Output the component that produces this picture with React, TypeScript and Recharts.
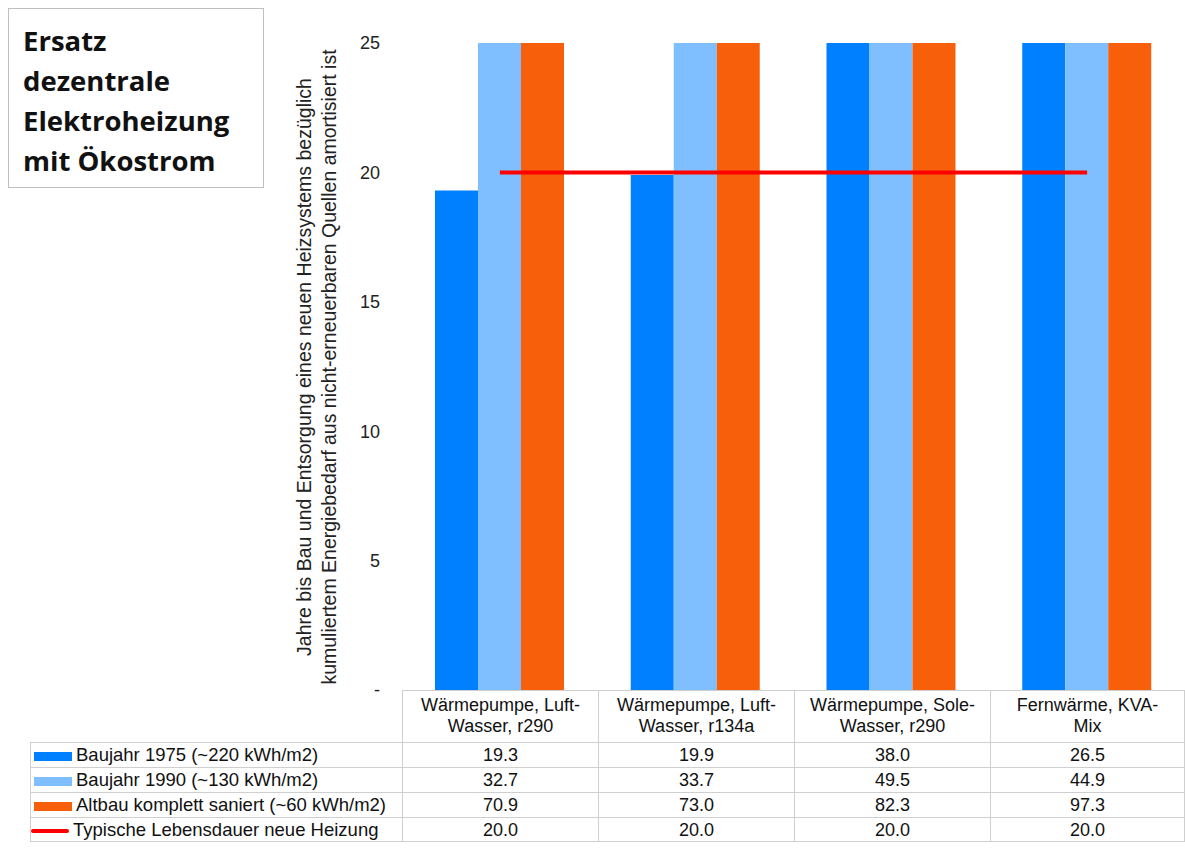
import React from "react";
import { ComposedChart, Bar, Line, XAxis, YAxis } from "recharts";

const categories = ["Wärmepumpe, Luft-\nWasser, r290", "Wärmepumpe, Luft-\nWasser, r134a", "Wärmepumpe, Sole-\nWasser, r290", "Fernwärme, KVA-\nMix"];
const b1975 = [19.3, 19.9, 38.0, 26.5];
const b1990 = [32.7, 33.7, 49.5, 44.9];
const altbau = [70.9, 73.0, 82.3, 97.3];
const lebensdauer = [20.0, 20.0, 20.0, 20.0];
const yTicks = [0, 5, 10, 15, 20, 25];

const series = [
  { key: "b1975", name: "Baujahr 1975 (~220 kWh/m2)", color: "#0080FF", values: b1975, line: false },
  { key: "b1990", name: "Baujahr 1990 (~130 kWh/m2)", color: "#80BFFF", values: b1990, line: false },
  { key: "altbau", name: "Altbau komplett saniert (~60 kWh/m2)", color: "#F75F0B", values: altbau, line: false },
  { key: "life", name: "Typische Lebensdauer neue Heizung", color: "#FF0000", values: lebensdauer, line: true },
];

const data = categories.map((c, i) => ({
  name: c,
  b1975: b1975[i],
  b1990: b1990[i],
  altbau: altbau[i],
  life: lebensdauer[i],
}));

const font = "'Liberation Sans', Arial, sans-serif";
const colX = [402, 598, 794, 990, 1185];
const border = "1px solid #cfcfcf";

export default function App() {
  return (
    <div style={{ position: "absolute", left: 0, top: 0, width: 1185, height: 849, background: "#fff", fontFamily: font }}>
      <div style={{ position: "absolute", left: 8, top: 8, width: 256, height: 180, border: "1px solid #bfbfbf", boxSizing: "border-box", padding: "12px 0 0 14px", fontFamily: "'Open Sans', sans-serif", fontWeight: 700, fontSize: 27.5, lineHeight: "40px", color: "#111" }}>
        Ersatz<br />dezentrale<br />Elektroheizung<br />mit Ökostrom
      </div>
      <ComposedChart width={1185} height={720} data={data} margin={{ top: 43, right: 0, bottom: 30, left: 0 }} barCategoryGap={33} barGap={0} style={{ position: "absolute", left: 0, top: 0 }}>
        <XAxis dataKey="name" hide />
        <YAxis width={402} domain={[0, 25]} ticks={yTicks} interval={0} allowDataOverflow axisLine={false} tickLine={false} tickSize={0} tickMargin={22}
          tick={{ fill: "#222", fontSize: 18, fontFamily: font }}
          tickFormatter={(v: number) => (v === 0 ? "-" : String(v))} />
        {series.filter(s => !s.line).map(s => (
          <Bar key={s.key} dataKey={s.key} fill={s.color} isAnimationActive={false} />
        ))}
        <Line dataKey="life" stroke="#FF0000" strokeWidth={4} dot={false} type="linear" isAnimationActive={false} />
      </ComposedChart>
      <svg width={80} height={700} style={{ position: "absolute", left: 280, top: 0 }}>
        <g transform="translate(31,367) rotate(-90)">
          <text x={0} y={0} textAnchor="middle" fontSize={19.5} fill="#222" fontFamily={font}>Jahre bis Bau und Entsorgung eines neuen Heizsystems bezüglich</text>
          <text x={0} y={25} textAnchor="middle" fontSize={19.5} fill="#222" fontFamily={font}>kumuliertem Energiebedarf aus nicht-erneuerbaren Quellen amortisiert ist</text>
        </g>
      </svg>
      {categories.map((c, i) => (
        <div key={c} style={{ position: "absolute", left: colX[i], top: 690, width: colX[i + 1] - colX[i], height: 52, borderLeft: border, borderTop: border, borderRight: i === 3 ? border : undefined, boxSizing: "border-box", textAlign: "center", fontSize: 18, lineHeight: "21px", paddingTop: 4, whiteSpace: "pre-line", color: "#111" }}>{c}</div>
      ))}
      {series.map((s, r) => (
        <React.Fragment key={s.key}>
          <div style={{ position: "absolute", left: 30, top: 742 + r * 25, width: 372, height: 25, borderLeft: border, borderTop: border, borderBottom: r === 3 ? border : undefined, boxSizing: "border-box", fontSize: 18.5, lineHeight: "24px", color: "#111", whiteSpace: "nowrap" }}>
            <span style={{ display: "inline-block", width: 38, height: s.line ? 4 : 9, background: s.color, marginLeft: s.line ? 0 : 3, marginRight: 4, verticalAlign: "middle", borderRadius: s.line ? 2 : 0 }} />
            {s.name}
          </div>
          {s.values.map((v, i) => (
            <div key={i} style={{ position: "absolute", left: colX[i], top: 742 + r * 25, width: colX[i + 1] - colX[i], height: 25, borderLeft: border, borderTop: border, borderRight: i === 3 ? border : undefined, borderBottom: r === 3 ? border : undefined, boxSizing: "border-box", textAlign: "center", fontSize: 18, lineHeight: "24px", color: "#111" }}>{v.toFixed(1)}</div>
          ))}
        </React.Fragment>
      ))}
    </div>
  );
}
